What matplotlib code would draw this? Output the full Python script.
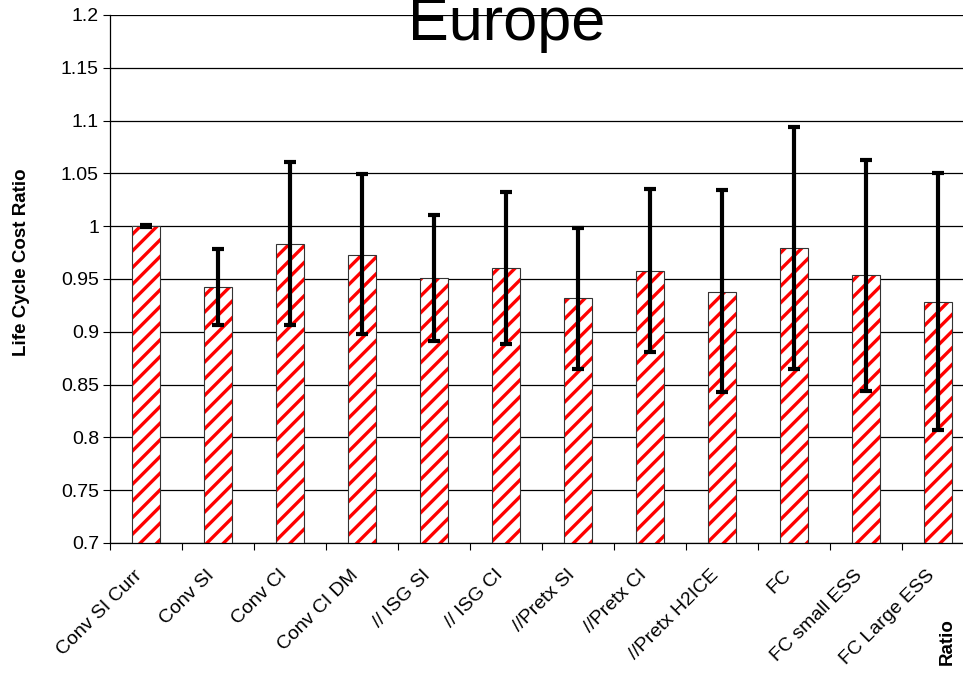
import matplotlib.pyplot as plt
import matplotlib.transforms as mtransforms
import numpy as np

plt.rcParams['font.family'] = ['Liberation Sans', 'DejaVu Sans']
plt.rcParams['hatch.linewidth'] = 2.4

categories = ['Conv SI Curr', 'Conv SI', 'Conv CI', 'Conv CI DM', '// ISG SI', '// ISG CI',
              '//Pretx SI', '//Pretx CI', '//Pretx H2ICE', 'FC', 'FC small ESS', 'FC Large ESS']
ratio = [1.000, 0.942, 0.983, 0.973, 0.951, 0.960, 0.932, 0.958, 0.938, 0.979, 0.954, 0.928]
err_low = [0.001, 0.036, 0.077, 0.075, 0.060, 0.072, 0.067, 0.077, 0.095, 0.114, 0.110, 0.121]
err_high = [0.001, 0.036, 0.078, 0.076, 0.060, 0.072, 0.066, 0.077, 0.096, 0.115, 0.109, 0.122]

fig = plt.figure(figsize=(9.63, 6.74), dpi=100)
ax = fig.add_axes([110 / 963, 1 - 543 / 674, 864 / 963, 528 / 674])

x = np.arange(len(categories))
ax.bar(x, ratio, width=0.39, color='white', edgecolor='red', hatch='//', linewidth=0, zorder=2)
ax.bar(x, ratio, width=0.39, fill=False, edgecolor='#333333', linewidth=0.8, zorder=3)
ax.errorbar(x, ratio, yerr=[err_low, err_high], fmt='none', ecolor='black',
            elinewidth=3, capsize=4.5, capthick=3, zorder=4)

ax.set_ylim(0.7, 1.2)
ax.set_xlim(-0.5, len(categories) - 0.5)
ax.set_yticks(np.arange(0.7, 1.201, 0.05))
ax.set_yticklabels(['0.7', '0.75', '0.8', '0.85', '0.9', '0.95', '1', '1.05', '1.1', '1.15', '1.2'],
                   fontsize=14)
ax.yaxis.grid(True, color='black', linewidth=0.9)
ax.set_axisbelow(True)
ax.tick_params(axis='y', direction='out', length=5, width=0.8, pad=3)

ax.set_xticks(np.arange(len(categories) + 1) - 0.5, minor=True)
ax.set_xticks(x)
ax.set_xticklabels(categories, rotation=45, ha='right', rotation_mode='anchor', fontsize=14)
ax.tick_params(axis='x', which='major', length=0, pad=17)
ax.tick_params(axis='x', which='minor', direction='out', length=5, width=0.8)
shift = mtransforms.ScaledTranslation(-12 / 100, 0, fig.dpi_scale_trans)
for lbl in ax.get_xticklabels():
    lbl.set_transform(lbl.get_transform() + shift)

for s in ['top', 'right']:
    ax.spines[s].set_visible(False)
ax.spines['left'].set_linewidth(0.9)
ax.spines['bottom'].set_linewidth(0.9)

fig.text(22 / 963, 1 - 262 / 674, 'Life Cycle Cost Ratio', rotation=90, ha='center', va='center',
         fontsize=13.5, fontweight='bold')
fig.text(947 / 963, 1 - 642 / 674, 'Ratio', rotation=90, ha='center', va='center',
         fontsize=13.5, fontweight='bold')
fig.text(507 / 963, 1 - 40 / 674, 'Europe', ha='center', va='baseline', fontsize=44)

fig.savefig('out.png', dpi=100)
